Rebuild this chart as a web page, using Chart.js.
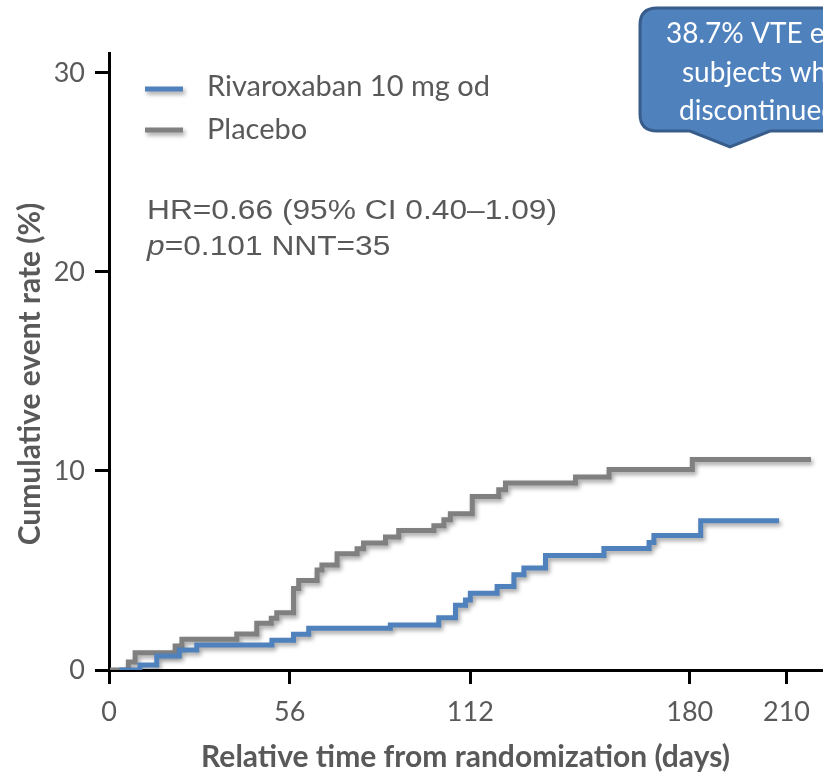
<!DOCTYPE html>
<html>
<head>
<meta charset="utf-8">
<script src="https://cdn.jsdelivr.net/npm/chart.js@4.4.1/dist/chart.umd.min.js"></script>
<style>
  html, body { margin: 0; padding: 0; background: #fff; }
</style>
</head>
<body>
<canvas id="km" width="823" height="778"></canvas>
<script>
// Kaplan-Meier style cumulative event rates
const rivaroxabanDays = [3.2, 9.6, 14.8, 21.8, 27.2, 50.5, 57.2, 61.9, 87.2, 102.2, 107.4, 110.5, 112.0, 120.3, 125.5, 128.6, 135.3, 153.4, 167.4, 168.9, 183.4, 207.7];
const rivaroxabanRate = [0, 0.25, 0.7, 1.0, 1.25, 1.5, 1.8, 2.1, 2.26, 2.63, 3.25, 3.52, 3.86, 4.19, 4.78, 5.12, 5.75, 6.1, 6.41, 6.76, 7.5, 7.5];

const placeboDays = [0.3, 6.0, 8.1, 20.5, 22.6, 39.6, 45.8, 50.3, 52.0, 57.2, 58.8, 64.5, 66.0, 70.7, 76.9, 78.9, 85.7, 89.8, 100.7, 103.8, 105.8, 112.6, 120.8, 122.9, 144.6, 155.0, 180.8, 217.6];
const placeboRate = [0, 0.4, 0.87, 1.2, 1.54, 1.81, 2.35, 2.6, 2.88, 4.1, 4.5, 5.03, 5.28, 5.84, 6.09, 6.38, 6.68, 7.01, 7.25, 7.55, 7.85, 8.72, 9.06, 9.4, 9.7, 10.07, 10.57, 10.57];

const xTicks = [0, 56, 112, 180, 210];
const yTicks = [0, 10, 20, 30];

const statsLine1 = 'HR=0.66 (95% CI 0.40\u20131.09)';
const statsLine2 = '=0.101 NNT=35';
const calloutLines = ['38.7% VTE events in', 'subjects who', 'discontinued'];

const textGrey = '#595959';
const blue = '#4F81BD';
const grey = '#808080';

const toPoints = (xs, ys) => xs.map((x, i) => ({ x: x, y: ys[i] }));

// drop shadow under the curves, like the office-style original
const shadowPlugin = {
  id: 'shadow',
  beforeDatasetsDraw(chart) {
    const ctx = chart.ctx;
    ctx.save();
    ctx.shadowColor = 'rgba(0,0,0,0.35)';
    ctx.shadowBlur = 4;
    ctx.shadowOffsetX = 2;
    ctx.shadowOffsetY = 3;
  },
  afterDatasetsDraw(chart) {
    chart.ctx.restore();
  }
};

const overlayPlugin = {
  id: 'overlay',
  afterDraw(chart) {
    const ctx = chart.ctx;

    // y axis title
    ctx.save();
    ctx.translate(30, 374);
    ctx.rotate(-Math.PI / 2);
    ctx.font = 'bold 30px Lato';
    ctx.fillStyle = textGrey;
    ctx.textAlign = 'center';
    ctx.textBaseline = 'middle';
    ctx.fillText('Cumulative event rate (%)', 0, 0);
    ctx.restore();

    // legend inside the plot
    const lineY = [89, 130];
    const textY = [96, 139];
    chart.data.datasets.forEach((ds, i) => {
      ctx.save();
      ctx.shadowColor = 'rgba(0,0,0,0.35)';
      ctx.shadowBlur = 4;
      ctx.shadowOffsetX = 2;
      ctx.shadowOffsetY = 3;
      ctx.strokeStyle = ds.borderColor;
      ctx.lineWidth = 5;
      ctx.beginPath();
      ctx.moveTo(145, lineY[i]);
      ctx.lineTo(183, lineY[i]);
      ctx.stroke();
      ctx.restore();
      ctx.save();
      ctx.font = '29px Lato';
      ctx.fillStyle = textGrey;
      ctx.fillText(ds.label, 207, textY[i]);
      ctx.restore();
    });

    // HR / p-value text (the original uses a slightly widened Arial)
    ctx.save();
    ctx.fillStyle = textGrey;
    ctx.translate(147, 0);
    ctx.scale(1.175, 1);
    ctx.font = '27px "Liberation Sans"';
    ctx.fillText(statsLine1, 0, 219);
    ctx.font = 'italic 27px "Liberation Sans"';
    ctx.fillText('p', 0, 255);
    const pw = ctx.measureText('p').width;
    ctx.font = '27px "Liberation Sans"';
    ctx.fillText(statsLine2, pw, 255);
    ctx.restore();

    // callout box (runs off the right edge)
    ctx.save();
    const L = 640, T = 8, B = 131, R = 960, r = 17;
    ctx.beginPath();
    ctx.moveTo(L + r, T);
    ctx.lineTo(R - r, T);
    ctx.quadraticCurveTo(R, T, R, T + r);
    ctx.lineTo(R, B - r);
    ctx.quadraticCurveTo(R, B, R - r, B);
    ctx.lineTo(770, B);
    ctx.lineTo(730, 147);
    ctx.lineTo(690, B);
    ctx.lineTo(L + r, B);
    ctx.quadraticCurveTo(L, B, L, B - r);
    ctx.lineTo(L, T + r);
    ctx.quadraticCurveTo(L, T, L + r, T);
    ctx.closePath();
    ctx.fillStyle = blue;
    ctx.fill();
    ctx.lineWidth = 3;
    ctx.strokeStyle = '#385D8A';
    ctx.stroke();
    ctx.fillStyle = '#ffffff';
    ctx.font = '28px Lato';
    const cx = [666, 682, 679];
    const cy = [43, 82, 120];
    calloutLines.forEach((t, i) => ctx.fillText(t, cx[i], cy[i]));
    ctx.restore();
  }
};

new Chart(document.getElementById('km'), {
  type: 'line',
  data: {
    datasets: [{
      label: 'Rivaroxaban 10 mg od',
      data: toPoints(rivaroxabanDays, rivaroxabanRate),
      borderColor: blue,
      borderWidth: 5,
      stepped: true,
      pointRadius: 0,
      fill: false
    }, {
      label: 'Placebo',
      data: toPoints(placeboDays, placeboRate),
      borderColor: grey,
      borderWidth: 5,
      stepped: true,
      pointRadius: 0,
      fill: false
    }]
  },
  options: {
    responsive: false,
    animation: false,
    devicePixelRatio: 1,
    layout: { padding: { top: 53, right: 1, left: 0, bottom: 0 } },
    plugins: {
      legend: { display: false },
      tooltip: { enabled: false }
    },
    scales: {
      x: {
        type: 'linear',
        min: 0,
        max: 221,
        afterBuildTicks: s => { s.ticks = xTicks.map(v => ({ value: v })); },
        afterFit: s => { s.height = 108; },
        ticks: {
          autoSkip: false,
          maxRotation: 0,
          color: textGrey,
          font: { family: 'Lato', size: 27 },
          padding: 12
        },
        grid: { drawOnChartArea: false, drawTicks: true, tickLength: 14, color: '#000', lineWidth: 3 },
        border: { display: true, color: '#000', width: 3 },
        title: {
          display: true,
          text: 'Relative time from randomization (days)',
          color: textGrey,
          font: { family: 'Lato', size: 30, weight: 'bold' },
          padding: { top: 0, bottom: 3 }
        }
      },
      y: {
        min: 0,
        max: 31,
        afterBuildTicks: s => { s.ticks = yTicks.map(v => ({ value: v })); },
        afterFit: s => { s.width = 109; },
        ticks: {
          color: textGrey,
          font: { family: 'Lato', size: 27 },
          padding: 10
        },
        grid: { drawOnChartArea: false, drawTicks: true, tickLength: 14, color: '#000', lineWidth: 3 },
        border: { display: true, color: '#000', width: 3 }
      }
    }
  },
  plugins: [shadowPlugin, overlayPlugin]
});
</script>
</body>
</html>
